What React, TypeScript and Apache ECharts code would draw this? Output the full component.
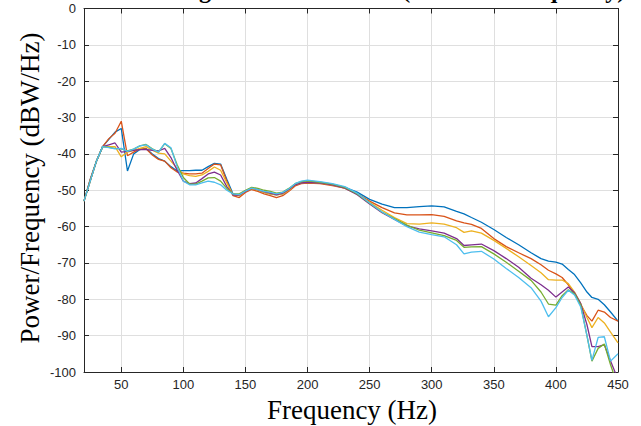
import React, { useEffect, useRef } from 'react';
import * as echarts from 'echarts';

const freq = [20, 25, 30, 35, 40, 45, 50, 55, 60, 65, 70, 75, 80, 85, 90, 95, 100, 105, 110, 115, 120, 125, 130, 135, 140, 145, 150, 155, 160, 165, 170, 175, 180, 185, 190, 195, 200, 210, 220, 230, 240, 250, 260, 270, 280, 290, 300, 310, 320, 326, 332, 340, 350, 360, 370, 380, 388, 394, 400, 405, 410, 415, 420, 425, 429, 434, 439, 444, 450];

const s1 = [-53, -47, -42, -38, -36, -34, -33, -44.7, -40, -38.8, -38.5, -40, -41.3, -42, -43.5, -44.7, -44.6, -44.6, -44.5, -44.5, -43.5, -42.6, -42.8, -47, -51, -51.5, -50.3, -49.5, -50, -50.6, -51, -51.3, -51, -50, -48.5, -48, -47.8, -48, -48.4, -49.2, -50.5, -52.5, -53.8, -54.8, -54.8, -54.5, -54.3, -54.6, -55.8, -56.5, -57.5, -58.8, -60.8, -63, -65, -67.2, -68.8, -69.5, -69.8, -70.3, -71.8, -73.2, -75.5, -78, -79.5, -80, -81.5, -83.5, -86];
const s2 = [-53, -47, -42, -38, -35.8, -34.3, -31, -40.5, -39.5, -38.6, -38.6, -40.3, -41.5, -42, -43.8, -45, -45.3, -45.5, -45.5, -45.3, -44, -42.8, -43, -47.5, -51.5, -52, -50.6, -49.8, -50.3, -51, -51.5, -52, -51.5, -50.3, -48.8, -48.2, -48, -48.2, -48.7, -49.4, -51, -53, -54.8, -56.2, -56.8, -56.8, -56.7, -57.2, -58.4, -59, -59.4, -60.5, -63.3, -65.5, -67.2, -68.8, -70.5, -72, -73, -74, -76, -78.5, -81.5, -84.5, -86, -83, -83.5, -85, -86];
const s3 = [-53, -47.5, -42, -38, -38, -38, -40.8, -39.5, -39, -38.5, -38, -39, -39.8, -40, -42, -44, -45.5, -46, -46.2, -45.8, -44.8, -43.6, -44.5, -48, -51.3, -51.5, -50.3, -49.5, -50, -50.6, -51, -51.3, -51, -50, -48.5, -48, -47.8, -48, -48.5, -49.4, -51, -53.3, -55.5, -57.5, -59.2, -59.3, -59, -59.3, -60.3, -61.6, -61.2, -61.8, -63.8, -66, -68.3, -70.7, -72.7, -74.6, -74.7, -74.7, -75.7, -78, -81.2, -85, -87.8, -85, -86.5, -89, -92];
const s4 = [-53, -47.5, -42, -38, -37.5, -37, -39.5, -39.3, -39, -38.8, -38.8, -39, -39.2, -38.5, -41, -44.5, -47.5, -48.2, -48, -46.8, -45.5, -45, -45.8, -49, -51.3, -51.3, -50.3, -49.4, -49.8, -50.4, -50.8, -51.2, -50.8, -49.8, -48.5, -48, -47.8, -48, -48.5, -49.4, -51.2, -53.8, -56.2, -58, -59.8, -60.6, -61.2, -61.8, -63.3, -65.2, -65, -64.8, -66.6, -68.8, -71.2, -74.2, -76, -77.5, -79.4, -78, -76.6, -78.2, -81.2, -87, -93, -93, -92.5, -97, -102];
const s5 = [-53, -47.5, -42, -38, -38.2, -38.5, -38.6, -39.2, -38.7, -37.8, -37.4, -38.6, -39.5, -37.2, -38.5, -43, -46.5, -48.3, -48.3, -47.5, -46.6, -46.5, -47.5, -49.5, -51, -51, -50, -49.2, -49.5, -50, -50.3, -50.8, -50.5, -49.5, -48.2, -47.6, -47.4, -47.8, -48.3, -49.2, -51, -53.6, -56, -57.8, -59.6, -61, -61.7, -62.5, -63.8, -65.7, -65.6, -65.5, -67.5, -69.8, -72.3, -74.8, -78, -81.3, -81.6, -79, -77.4, -78.5, -81.6, -90, -97, -93.5, -92.3, -98, -104];
const s6 = [-53, -47.5, -42, -38, -38.3, -38.6, -38.5, -39.3, -38.7, -37.8, -37.5, -38.7, -39.5, -37.1, -38.3, -43.5, -47.5, -48.5, -48.5, -48, -47.5, -47.8, -48.5, -50, -51, -51.2, -50.2, -49.4, -49.8, -50.3, -50.6, -51, -50.6, -49.6, -48.2, -47.5, -47.2, -47.6, -48.2, -49, -50.8, -53.5, -56, -58, -60, -61.5, -62.2, -62.8, -65, -67.5, -67, -66.8, -68.9, -71.5, -74, -76.8, -80.5, -84.8, -82.3, -79.5, -77.5, -78.8, -82.1, -90, -96.8, -90.5, -90.3, -97, -95];

const seriesValues = [s1, s2, s3, s4, s5, s6];
const seriesNames = ['Channel 1', 'Channel 2', 'Channel 3', 'Channel 4', 'Channel 5', 'Channel 6'];
const colors = ['#0072BD', '#D95319', '#EDB120', '#7E2F8E', '#77AC30', '#4DBEEE'];
const xTicks = [50, 100, 150, 200, 250, 300, 350, 400, 450];

const titleText = 'Welch Avg. PSD of Channels (Power vs Frequency)';
const xName = 'Frequency (Hz)';
const yName = 'Power/Frequency (dBW/Hz)';

export default function App() {
  const ref = useRef<HTMLDivElement>(null);
  useEffect(() => {
    const chart = echarts.init(ref.current!, null, { renderer: 'svg' });
    const axisColor = '#262626';
    const gridColor = '#dfdfdf';
    const tickFont = { fontFamily: 'Liberation Sans', fontSize: 13, color: axisColor };
    const serif = '"Liberation Serif", "Times New Roman", serif';
    const xBase = {
      type: 'value' as const,
      min: 20,
      max: 450,
      axisLine: { show: true, onZero: false, lineStyle: { color: axisColor, width: 1 } },
      axisTick: { show: true, inside: true, length: 5, customValues: xTicks, lineStyle: { color: axisColor } },
      splitLine: { show: false },
    };
    chart.setOption({
      animation: false,
      backgroundColor: '#ffffff',
      grid: { left: 84, right: 23, top: 8.5, bottom: 54, containLabel: false },
      xAxis: [
        {
          ...xBase,
          position: 'bottom',
          axisLabel: { ...tickFont, margin: 6, customValues: xTicks },
          splitLine: { show: true, lineStyle: { color: gridColor, width: 1 } },
        },
        { ...xBase, position: 'top', axisLabel: { show: false } },
      ],
      yAxis: [
        {
          type: 'value',
          min: -100,
          max: 0,
          interval: 10,
          position: 'left',
          axisLine: { show: true, onZero: false, lineStyle: { color: axisColor, width: 1 } },
          axisTick: { show: true, inside: true, length: 5, lineStyle: { color: axisColor } },
          axisLabel: { ...tickFont, margin: 8 },
          splitLine: { show: true, lineStyle: { color: gridColor, width: 1 } },
        },
        {
          type: 'value',
          min: -100,
          max: 0,
          interval: 10,
          position: 'right',
          axisLine: { show: true, onZero: false, lineStyle: { color: axisColor, width: 1 } },
          axisTick: { show: true, inside: true, length: 5, lineStyle: { color: axisColor } },
          axisLabel: { show: false },
          splitLine: { show: false },
        },
      ],
      series: seriesValues.map((vals, i) => ({
        name: seriesNames[i],
        type: 'line',
        xAxisIndex: 0,
        yAxisIndex: 0,
        showSymbol: false,
        symbol: 'none',
        clip: true,
        color: colors[i],
        lineStyle: { color: colors[i], width: 1.3 },
        data: freq.map((f, k) => [f, vals[k]]),
      })),
      graphic: [
        {
          type: 'text',
          x: 364,
          y: 2,
          style: {
            text: titleText,
            fontFamily: serif,
            fontWeight: 'bold',
            fontSize: 24,
            fill: '#000',
            textAlign: 'center',
            textVerticalAlign: 'bottom',
          },
        },
        {
          type: 'text',
          x: 352,
          y: 410,
          style: {
            text: xName,
            fontFamily: serif,
            fontSize: 27,
            fill: '#000',
            textAlign: 'center',
            textVerticalAlign: 'middle',
          },
        },
        {
          type: 'text',
          x: 30,
          y: 188,
          rotation: Math.PI / 2,
          style: {
            text: yName,
            fontFamily: serif,
            fontSize: 27,
            fill: '#000',
            textAlign: 'center',
            textVerticalAlign: 'middle',
          },
        },
      ],
    });
    return () => chart.dispose();
  }, []);
  return (
    <div
      ref={ref}
      style={{ position: 'fixed', left: 0, top: 0, width: 641, height: 426, background: '#fff' }}
    />
  );
}
